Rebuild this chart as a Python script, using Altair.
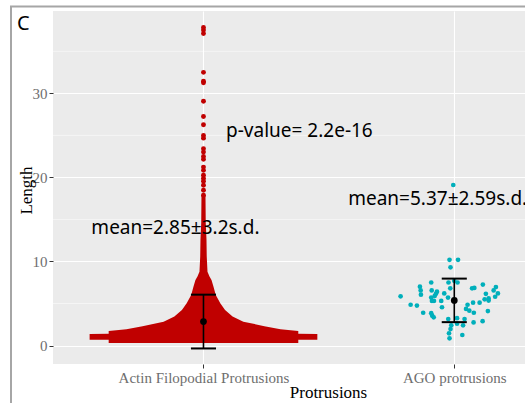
import altair as alt
import pandas as pd

# ---------------- data ----------------
categories = ["Actin Filopodial Protrusions", "AGO protrusions"]
cat_pos = [1, 2]
means = [2.85, 5.37]
sds = [3.2, 2.59]

# Actin: outline of the dense swarm (length, half-width in category units)
actin_profile_len = [0.30, 0.68, 0.70, 1.37, 1.39, 1.74, 1.94, 2.30, 2.84, 3.44,
                     4.23, 5.02, 6.00, 6.99, 7.80, 8.20, 8.79, 10.6, 12.6, 14.6, 17.8]
actin_profile_halfw = [0.378, 0.378, 0.454, 0.454, 0.378, 0.378, 0.307, 0.243, 0.159, 0.116,
                       0.086, 0.067, 0.049, 0.040, 0.032, 0.024, 0.016, 0.013, 0.012, 0.009, 0.008]
# Actin: isolated long protrusions above the swarm
actin_tail = [37.84, 37.53, 37.13, 32.50, 31.44, 31.25, 29.06, 27.25, 26.26, 25.0, 24.67,
              23.42, 23.01, 22.50, 22.15, 21.23, 20.84, 20.25, 19.89, 19.54, 19.06, 18.47, 17.88]

# AGO protrusions (length, horizontal jitter)
ago_len = [10.2, 10.2, 9.3, 7.5, 7.5, 7.7, 7.5, 7.25, 7.0, 6.55, 6.05, 6.55, 6.4, 6.15, 5.9,
           6.8, 6.2, 6.8, 6.85, 6.95, 6.55, 6.2, 6.15, 5.8, 5.5, 5.6, 5.35, 5.1, 5.1, 5.7,
           5.3, 5.3, 5.3, 5.7, 4.85, 4.75, 4.55, 4.85, 4.35, 4.15, 3.9, 4.1, 3.9, 3.85, 3.55,
           3.35, 3.15, 3.25, 3.15, 2.75, 2.9, 2.4, 2.6, 2.4, 1.95, 1.45, 1.25, 0.85, 5.85, 19.1]
ago_jitter = [-0.019, 0.015, -0.015, -0.092, -0.023, 0.0, 0.013, 0.114, -0.137, -0.134,
              -0.133, -0.090, -0.069, -0.073, -0.078, -0.016, -0.040, 0.071, 0.080, 0.166,
              0.157, 0.174, 0.126, 0.163, 0.121, 0.137, 0.137, 0.101, 0.075, -0.092,
              -0.089, -0.081, -0.052, -0.025, -0.174, -0.149, -0.049, 0.053, 0.047, 0.060,
              0.078, 0.134, -0.124, -0.092, -0.088, -0.082, -0.024, 0.011, 0.041, 0.077,
              0.113, -0.012, 0.011, 0.035, -0.015, -0.021, 0.032, -0.019, -0.214, -0.004]

minor_breaks = [5, 15, 25, 35]

annot_text = ["p-value= 2.2e-16", "mean=2.85\u00b13.2s.d.", "mean=5.37\u00b12.59s.d."]
annot_x = [1.09, 0.553, 1.577]
annot_y = [25.5, 13.95, 17.4]

RED = "#C00000"
CYAN = "#00AFBB"
SERIF = "Liberation Serif"
SANS = "Noto Sans"

# ---------------- tables ----------------
profile_df = pd.DataFrame({"len": actin_profile_len, "hw": actin_profile_halfw})
tail_df = pd.DataFrame({"len": actin_tail, "cat": 1})
ago_df = pd.DataFrame({"len": ago_len, "jit": ago_jitter, "cat": 2})
stat_df = pd.DataFrame({"cat": cat_pos, "mean": means, "sd": sds, "name": categories})
minor_df = pd.DataFrame({"v": minor_breaks})
annot_df = pd.DataFrame({"x": annot_x, "y": annot_y, "t": annot_text})

xs = alt.Scale(domain=[0.4, 2.282], nice=False, zero=False)
ys = alt.Scale(domain=[-2.2, 39.8], nice=False, zero=False)

x_axis = alt.Axis(
    values=[1, 2],
    labelExpr="datum.value == 1 ? 'Actin Filopodial Protrusions' : 'AGO protrusions'",
    grid=True, gridColor="white", gridWidth=1.1,
    domain=False, ticks=True, tickSize=4, tickColor="#333333", tickWidth=1,
    labelFont=SERIF, labelFontSize=15, labelColor="#6E6E6E", labelPadding=2,
    title="Protrusions", titleFont=SERIF, titleFontSize=17, titleFontWeight="normal",
    titleColor="black", titleX=275, titleY=28, titleBaseline="middle", titleAnchor="middle",
)
y_axis = alt.Axis(
    values=[0, 10, 20, 30],
    grid=True, gridColor="white", gridWidth=1.1,
    domain=False, ticks=True, tickSize=4, tickColor="#333333", tickWidth=1,
    labelFont=SERIF, labelFontSize=15, labelColor="#6E6E6E", labelPadding=2,
    title="Length", titleFont=SERIF, titleFontSize=17, titleFontWeight="normal",
    titleColor="black", titleX=-27, titleY=179, titleBaseline="middle", titleAngle=270,
)


def X(field):
    return alt.X(field, type="quantitative", scale=xs, axis=x_axis, title="Protrusions")


def Y(field):
    return alt.Y(field, type="quantitative", scale=ys, axis=y_axis, title="Length")


minor = alt.Chart(minor_df).mark_rule(color="white", strokeWidth=0.5).encode(
    y=Y("v")
)

area = alt.Chart(profile_df).transform_calculate(
    lo="1 - datum.hw", hi="1 + datum.hw"
).mark_area(orient="horizontal", color=RED, opacity=1).encode(
    y=Y("len"),
    x=X("lo"),
    x2="hi:Q",
)

tail = alt.Chart(tail_df).mark_circle(color=RED, size=24, opacity=1).encode(
    x=X("cat"), y=Y("len"),
)

ago = alt.Chart(ago_df).transform_calculate(
    xp="datum.cat + datum.jit"
).mark_circle(color=CYAN, size=22, opacity=1).encode(
    x=X("xp"), y=Y("len"),
)

stat_base = alt.Chart(stat_df).transform_calculate(
    lo="datum.mean - datum.sd", hi="datum.mean + datum.sd",
    cl="datum.cat - 0.05", cr="datum.cat + 0.05",
)
err = stat_base.mark_rule(color="black", strokeWidth=1.6).encode(
    x=X("cat"), y=Y("lo"), y2="hi:Q",
)
cap_lo = stat_base.mark_rule(color="black", strokeWidth=2).encode(
    x=X("cl"), x2="cr:Q", y=Y("lo"),
)
cap_hi = stat_base.mark_rule(color="black", strokeWidth=2).encode(
    x=X("cl"), x2="cr:Q", y=Y("hi"),
)
mean_pt = stat_base.mark_circle(color="black", size=45, opacity=1).encode(
    x=X("cat"), y=Y("mean"),
)

annot = alt.Chart(annot_df).mark_text(
    align="left", baseline="middle", font=SANS, fontSize=19, color="black", clip=True
).encode(
    x=X("x"), y=Y("y"), text="t:N",
)

panel_label = alt.Chart(pd.DataFrame({"t": ["C"]})).mark_text(
    align="left", baseline="middle", font=SANS, fontSize=20, color="black"
).encode(x=alt.value(-36), y=alt.value(13), text="t:N")

frame = alt.Chart(pd.DataFrame({"t": ["frame"]})).mark_rect(
    fillOpacity=0, stroke="#A6A6A6", strokeWidth=2
).encode(x=alt.value(-42), x2=alt.value(700), y=alt.value(-4.5), y2=alt.value(600))

chart = alt.layer(
    minor, area, tail, ago, err, cap_lo, cap_hi, mean_pt, annot, panel_label, frame
).properties(
    width=472, height=353,
    autosize=alt.AutoSizeParams(type="none"),
    padding={"left": 53, "top": 11, "right": 0, "bottom": 39},
    background="white",
).configure_view(
    fill="#EBEBEB", stroke="transparent", strokeWidth=0
)

chart.save("out.html", embed_options={"renderer": "svg", "actions": False})
